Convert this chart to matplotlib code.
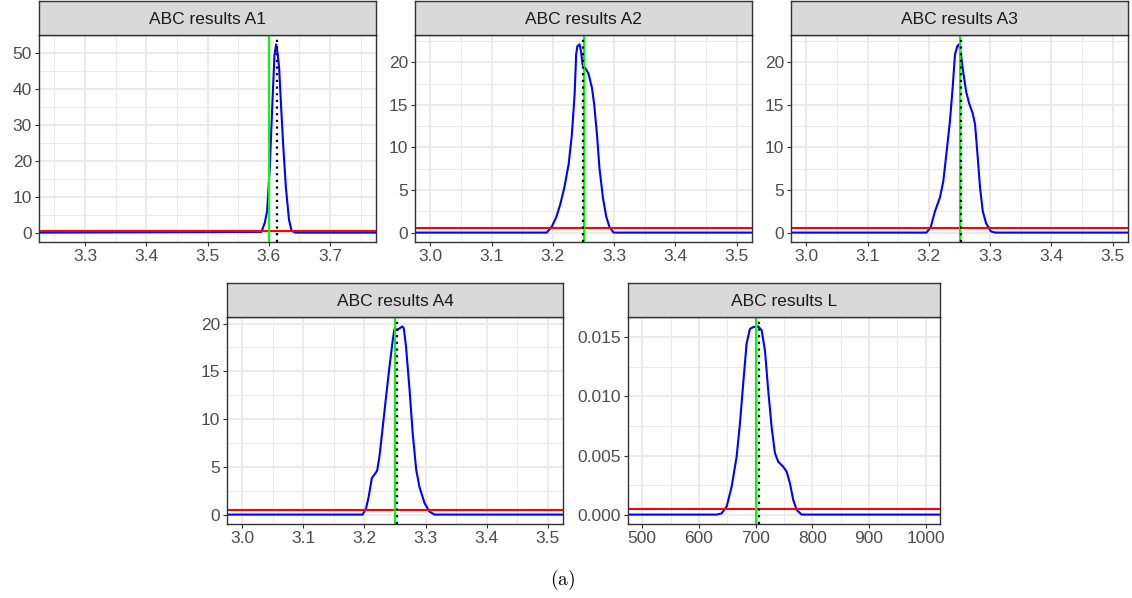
import matplotlib
matplotlib.use("Agg")
import matplotlib.pyplot as plt
import numpy as np

plt.rcParams["font.family"] = ["Liberation Sans", "DejaVu Sans"]

# ----------------------------------------------------------
# values
# ----------------------------------------------------------
titles = ["ABC results A1", "ABC results A2", "ABC results A3",
          "ABC results A4", "ABC results L"]

# posterior density curves (x, density); first/last x are the panel edges
a1_x = [3.225, 3.588, 3.5934, 3.5972, 3.6016, 3.606, 3.6093, 3.612, 3.6148,
        3.617, 3.6197, 3.6235, 3.628, 3.633, 3.6372, 3.643, 3.775]
a1_y = [0, 0.2, 2.7, 5.9, 18, 36.5, 49.5, 52.5, 49.5,
        45.8, 36.5, 24.5, 12.4, 3.6, 0.55, 0, 0]

a2_x = [2.975, 3.19, 3.1985, 3.2055, 3.212, 3.219, 3.2257, 3.231, 3.2355, 3.238,
        3.240, 3.2436, 3.2463, 3.2485, 3.253, 3.258, 3.2638, 3.2675, 3.272,
        3.276, 3.2817, 3.287, 3.2925, 3.299, 3.525]
a2_y = [0, 0, 0.74, 1.8, 3.3, 5.4, 8.0, 11.5, 16.2, 20.9,
        21.9, 22.1, 21.1, 19.7, 19.3, 18.7, 17.0, 15.0, 11.5,
        7.6, 4.1, 1.9, 0.63, 0, 0]

a3_x = [2.975, 3.196, 3.203, 3.210, 3.218, 3.2235, 3.229, 3.2344, 3.2388, 3.2426,
        3.2464, 3.249, 3.2525, 3.256, 3.2607, 3.2656, 3.2716, 3.2754, 3.279,
        3.2836, 3.288, 3.2934, 3.301, 3.308, 3.525]
a3_y = [0, 0, 0.63, 2.5, 4.1, 6.0, 9.5, 13.1, 17.0, 20.9,
        21.9, 22.1, 20.9, 18.9, 16.6, 15.2, 14.0, 12.7, 9.5,
        5.2, 2.5, 1.1, 0.15, 0, 0]

a4_x = [2.975, 3.197, 3.2027, 3.207, 3.212, 3.2164, 3.2208, 3.2246, 3.230, 3.2355,
        3.241, 3.2464, 3.249, 3.2536, 3.2574, 3.262, 3.2644, 3.268, 3.2738,
        3.279, 3.2847, 3.290, 3.2984, 3.3066, 3.3148, 3.525]
a4_y = [0, 0, 0.66, 1.9, 3.8, 4.2, 4.6, 6.1, 9.2, 12.4,
        15.5, 18.3, 19.4, 19.3, 19.5, 19.7, 19.5, 17.6, 13.1,
        8.5, 4.7, 2.9, 1.2, 0.3, 0, 0]

l_x = [475, 631, 640, 648.9, 657.7, 666.5, 672.3, 678.1, 684.1, 690, 695.8,
       704.6, 710.6, 716.4, 722.2, 728.2, 734, 739.9, 748.7, 754.7, 760.5,
       766.3, 772.3, 781, 1025]
l_y = [0, 0, 0.0001, 0.00068, 0.00236, 0.0049, 0.0077, 0.0111, 0.0145,
       0.01573, 0.01587, 0.01593, 0.0156, 0.0139, 0.0105, 0.0074, 0.0052,
       0.00447, 0.00405, 0.00363, 0.00264, 0.00124, 0.0004, 0, 0]

curves_x = [a1_x, a2_x, a3_x, a4_x, l_x]
curves_y = [a1_y, a2_y, a3_y, a4_y, l_y]

prior_density = [0.5, 0.5, 0.5, 0.5, 0.0005]    # red line
true_value = [3.6, 3.25, 3.25, 3.25, 700]        # green line
estimate = [3.614, 3.2485, 3.253, 3.253, 706.5]  # dotted black line

x_ticks = [[3.3, 3.4, 3.5, 3.6, 3.7], [3.0, 3.1, 3.2, 3.3, 3.4, 3.5],
           [3.0, 3.1, 3.2, 3.3, 3.4, 3.5], [3.0, 3.1, 3.2, 3.3, 3.4, 3.5],
           [500, 600, 700, 800, 900, 1000]]
y_ticks = [[0, 10, 20, 30, 40, 50], [0, 5, 10, 15, 20], [0, 5, 10, 15, 20],
           [0, 5, 10, 15, 20], [0, 0.005, 0.010, 0.015]]
x_fmt = ["{:.1f}"] * 4 + ["{:.0f}"]
y_fmt = ["{:.0f}"] * 4 + ["{:.3f}"]

# ----------------------------------------------------------
# layout (pixels of a 1132 x 598 figure): left, right, strip top, plot top, plot bottom
# ----------------------------------------------------------
W, H = 1132, 598
boxes = [(39, 376, 1, 35, 242), (415, 752, 1, 35, 242), (791, 1128, 1, 35, 242),
         (227, 563, 283, 317, 524), (628, 940, 283, 317, 524)]

fig = plt.figure(figsize=(W / 100, H / 100), dpi=100)

for k in range(5):
    l, r, st, pt, pb = boxes[k]
    ax = fig.add_axes([l / W, 1 - pb / H, (r - l) / W, (pb - pt) / H])
    sx = fig.add_axes([l / W, 1 - pt / H, (r - l) / W, (pt - st) / H])

    # strip
    sx.set_facecolor("#D9D9D9")
    sx.set_xticks([])
    sx.set_yticks([])
    for s in sx.spines.values():
        s.set_color("#333333")
        s.set_linewidth(1.0)
    sx.text(0.5, 0.47, titles[k], ha="center", va="center", fontsize=12.5,
            color="#1A1A1A", transform=sx.transAxes)

    x0, x1 = curves_x[k][0], curves_x[k][-1]
    ymax = max(curves_y[k])
    dy = ymax * 0.05

    # grid
    xt = x_ticks[k]
    step = xt[1] - xt[0]
    ax.set_xticks(xt)
    ax.set_xticks(np.arange(xt[0] - step / 2, x1, step), minor=True)
    yt = y_ticks[k]
    ystep = yt[1] - yt[0]
    ax.set_yticks(yt)
    ax.set_yticks(np.arange(yt[0] + ystep / 2, ymax + dy, ystep), minor=True)
    ax.set_xticklabels([x_fmt[k].format(v) for v in xt])
    ax.set_yticklabels([y_fmt[k].format(v) for v in yt])
    ax.grid(which="major", color="#EBEBEB", linewidth=1.4)
    ax.grid(which="minor", color="#EBEBEB", linewidth=0.7)
    ax.set_axisbelow(True)
    ax.tick_params(which="major", length=3, width=0.8, color="#333333",
                   labelsize=12.5, labelcolor="#4D4D4D", pad=2)
    ax.tick_params(which="minor", length=0)
    for s in ax.spines.values():
        s.set_color("#333333")
        s.set_linewidth(1.0)
        s.set_zorder(6)

    # limits after ticks: curve spans the panel, y expanded 5% like ggplot
    ax.set_xlim(x0, x1)
    ax.set_ylim(-dy, ymax + dy)

    ax.plot(curves_x[k], curves_y[k], color="blue", lw=1.5, zorder=2)
    ax.axhline(prior_density[k], color="red", lw=1.5, zorder=3)
    ax.axvline(true_value[k], color="#00FF00", lw=1.5, zorder=4)
    ax.axvline(estimate[k], color="black", lw=1.6, ls=(0, (1, 2)), zorder=5)

fig.text(563 / W, 1 - 580 / H, r"$\mathrm{(a)}$", ha="center", va="center",
         fontsize=14, math_fontfamily="cm")

fig.savefig("out.png", dpi=100)
